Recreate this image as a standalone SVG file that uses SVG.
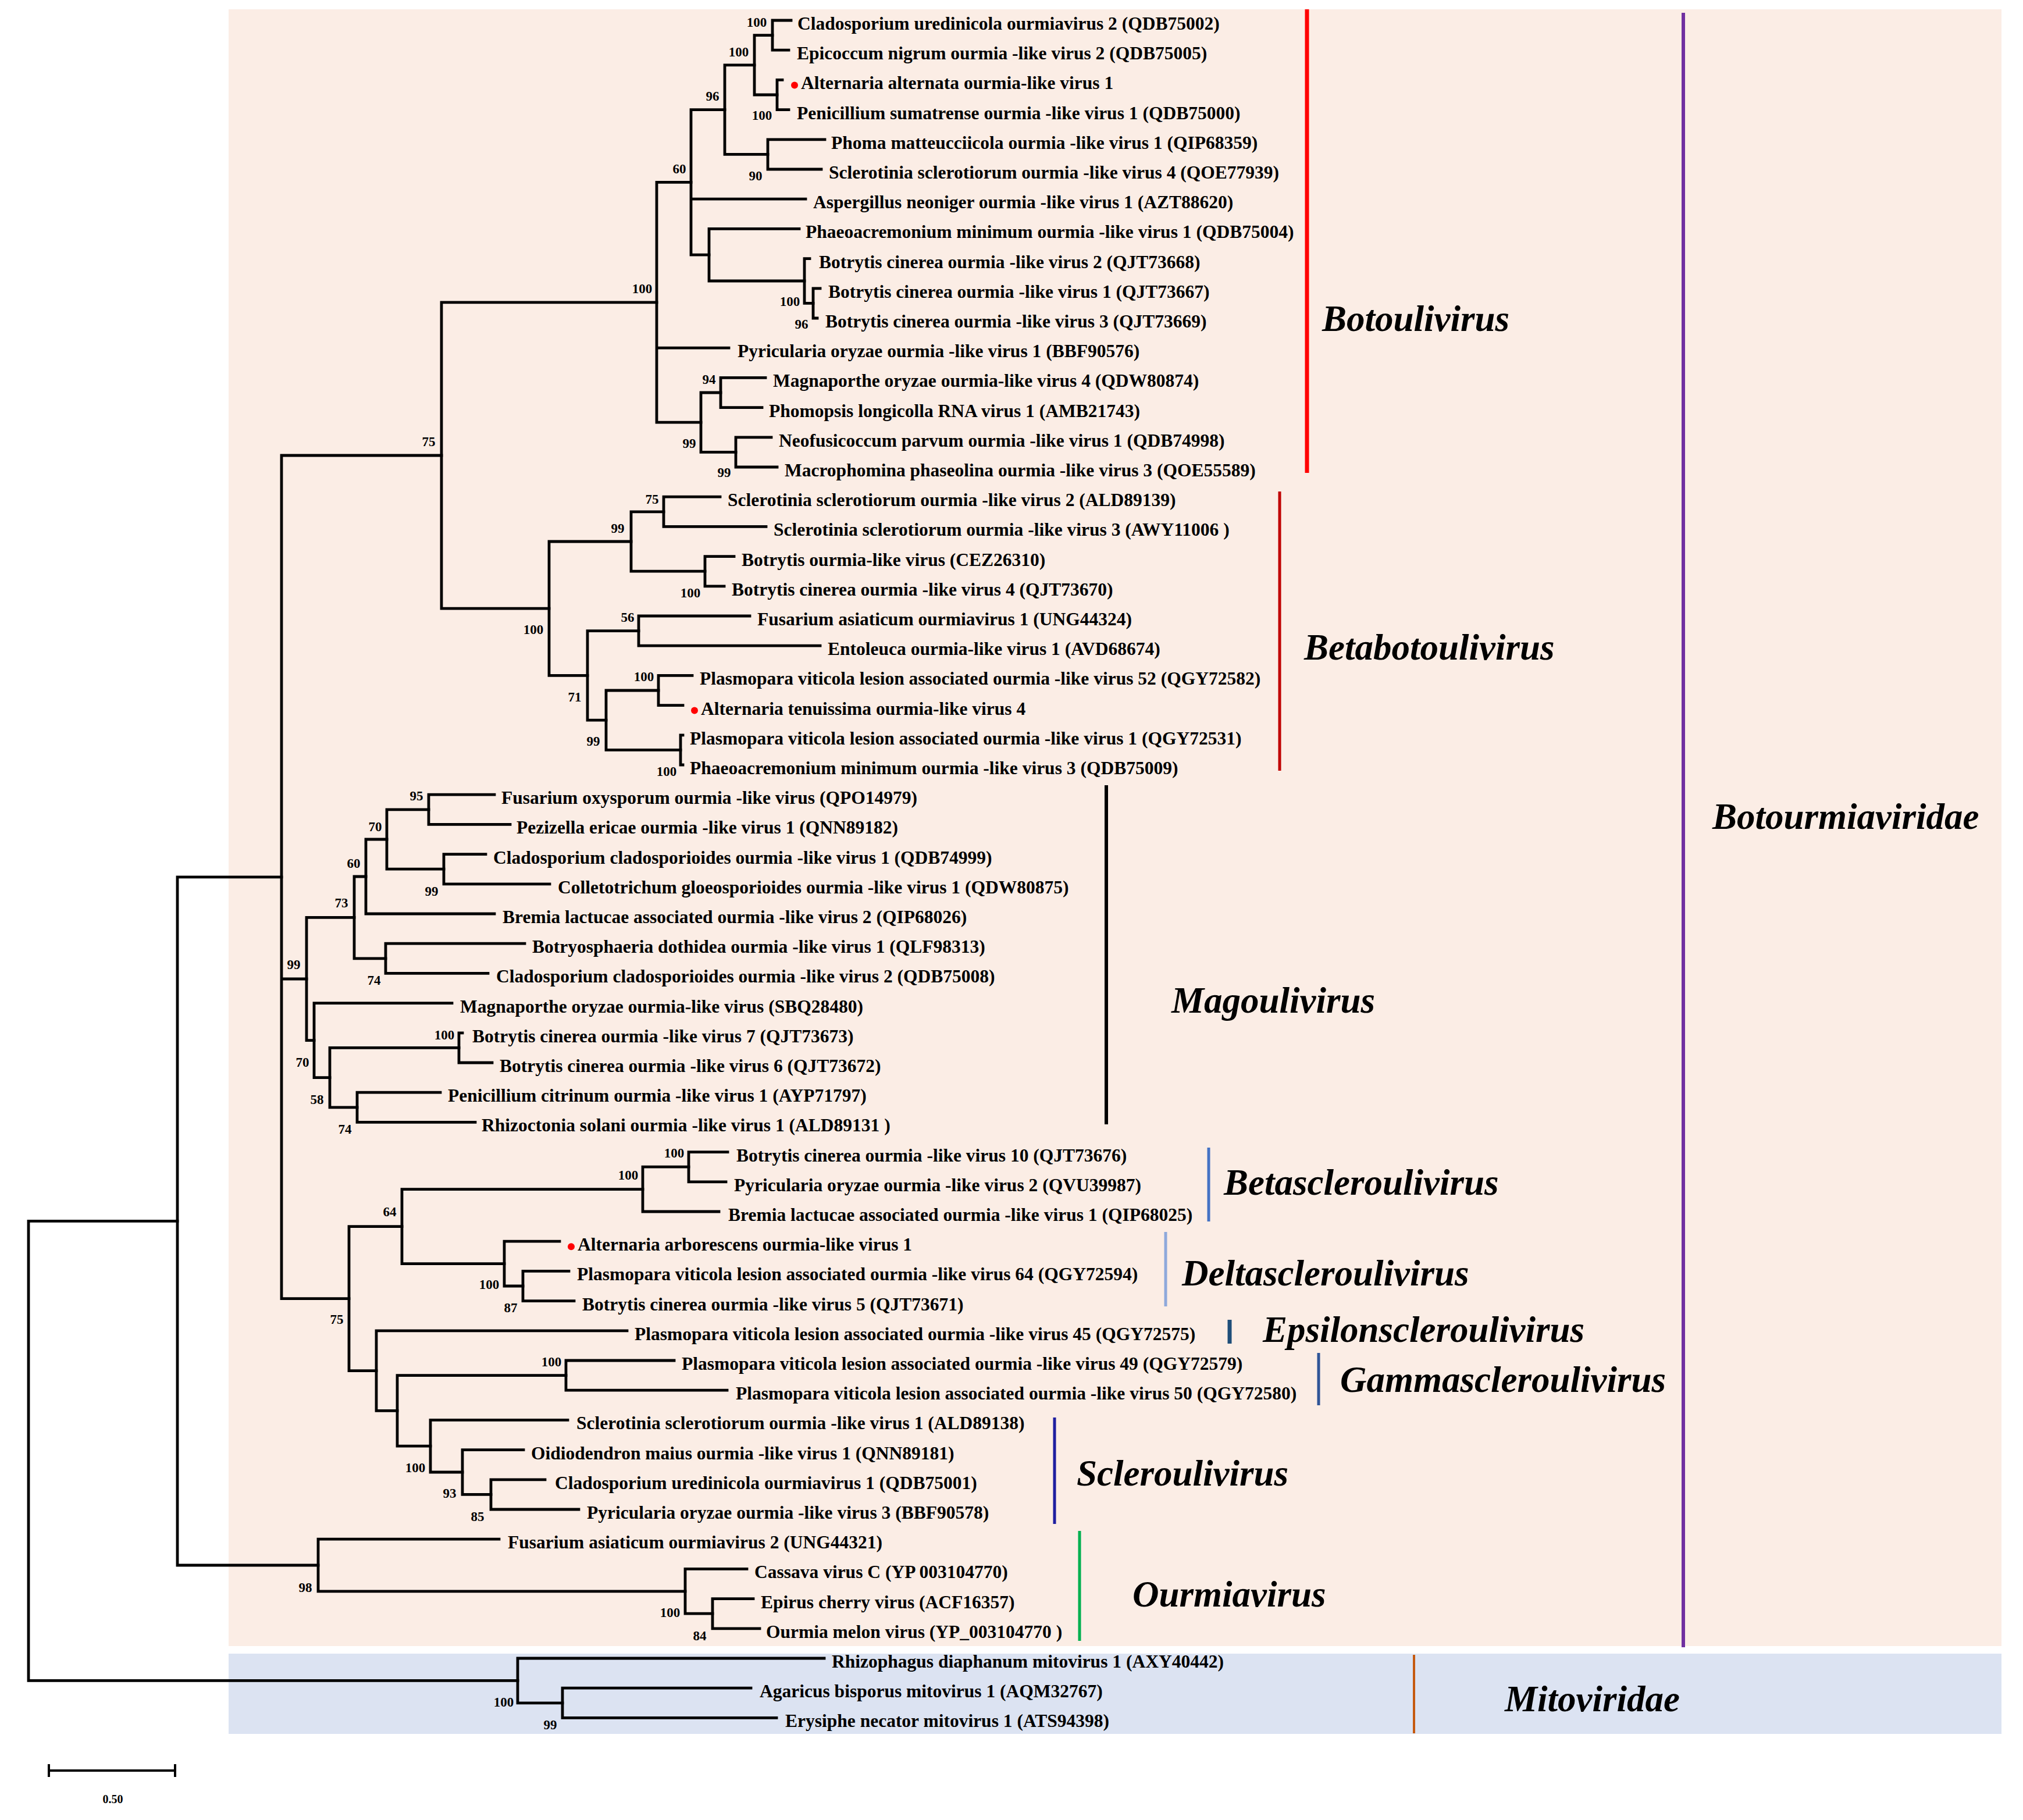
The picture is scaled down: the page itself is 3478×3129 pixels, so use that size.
<svg xmlns="http://www.w3.org/2000/svg" width="3478" height="3129" viewBox="0 0 3478 3129">
<style>
.leaf{font-family:"Liberation Serif","Times New Roman",serif;font-weight:bold;font-size:31.5px;fill:#000}
.bs{font-family:"Liberation Serif","Times New Roman",serif;font-weight:bold;font-size:23px;text-anchor:middle;fill:#000}
.clade{font-family:"Liberation Serif","Times New Roman",serif;font-weight:bold;font-style:italic;font-size:63px;fill:#000}
.tree path{fill:none;stroke:#000;stroke-width:4.8;stroke-linecap:square}
.bar{stroke-width:6;fill:none}
.dot{fill:#FF0000}
</style>
<rect width="3478" height="3129" fill="#FFFFFF"/>
<rect id="bg-botourmiaviridae" x="393" y="16" width="3048" height="2814" fill="#FBEDE5"/>
<rect id="bg-mitoviridae" x="393" y="2843" width="3048" height="138" fill="#DCE3F2"/>

<g id="connectors" class="tree">
<path d="M49,2099.4V2889.4M49,2099.4H305M49,2889.4H890"/>
<path d="M305,1507.8V2691M305,1507.8H484M305,2691H547"/>
<path d="M484,783V2232.6M484,783H759M484,1683H527M484,2232.6H600"/>
<path d="M759,519.8V1046.2M759,519.8H1129M759,1046.2H944"/>
<path d="M1129,313.4V726.2M1129,313.4H1188M1129,598.2H1253M1129,726.2H1205"/>
<path d="M1188,188.6V438.2M1188,188.6H1246M1188,342.2H1385M1188,438.2H1219"/>
<path d="M1246,111.8V265.4M1246,111.8H1297M1246,265.4H1320"/>
<path d="M1297,60.6V163M1297,60.6H1328M1297,163H1336"/>
<path d="M1328,35V86.2M1328,35H1360M1328,86.2H1356"/>
<path d="M1336,137.4V188.6M1336,137.4H1345M1336,188.6H1356"/>
<path d="M1320,239.8V291M1320,239.8H1418M1320,291H1412"/>
<path d="M1219,393.4V483M1219,393.4H1374M1219,483H1383"/>
<path d="M1383,444.6V521.4M1383,444.6H1392M1383,521.4H1398"/>
<path d="M1398,495.8V547M1398,495.8H1410M1398,547H1405"/>
<path d="M1205,675V777.4M1205,675H1239M1205,777.4H1265"/>
<path d="M1239,649.4V700.6M1239,649.4H1316M1239,700.6H1310"/>
<path d="M1265,751.8V803M1265,751.8H1326M1265,803H1336"/>
<path d="M944,931V1161.4M944,931H1085M944,1161.4H1010"/>
<path d="M1085,879.8V982.2M1085,879.8H1141M1085,982.2H1212"/>
<path d="M1141,854.2V905.4M1141,854.2H1238M1141,905.4H1317"/>
<path d="M1212,956.6V1007.8M1212,956.6H1262M1212,1007.8H1245"/>
<path d="M1010,1084.6V1238.2M1010,1084.6H1098M1010,1238.2H1042"/>
<path d="M1098,1059V1110.2M1098,1059H1289M1098,1110.2H1410"/>
<path d="M1042,1187V1289.4M1042,1187H1132M1042,1289.4H1170"/>
<path d="M1132,1161.4V1212.6M1132,1161.4H1190M1132,1212.6H1174"/>
<path d="M1170,1263.8V1315M1170,1263.8H1174M1170,1315H1174"/>
<path d="M527,1577.4V1788.6M527,1577.4H609M527,1788.6H540"/>
<path d="M609,1507V1647.8M609,1507H629M609,1647.8H663"/>
<path d="M629,1443V1571M629,1443H665M629,1571H850"/>
<path d="M665,1391.8V1494.2M665,1391.8H737M665,1494.2H763"/>
<path d="M737,1366.2V1417.4M737,1366.2H850M737,1417.4H877"/>
<path d="M763,1468.6V1519.8M763,1468.6H835M763,1519.8H945"/>
<path d="M663,1622.2V1673.4M663,1622.2H902M663,1673.4H839"/>
<path d="M540,1724.6V1852.6M540,1724.6H777M540,1852.6H567"/>
<path d="M567,1801.4V1903.8M567,1801.4H789M567,1903.8H614"/>
<path d="M789,1775.8V1827M789,1775.8H795M789,1827H846"/>
<path d="M614,1878.2V1929.4M614,1878.2H757M614,1929.4H817"/>
<path d="M600,2108.6V2356.6M600,2108.6H691M600,2356.6H647"/>
<path d="M691,2044.6V2172.6M691,2044.6H1105M691,2172.6H867"/>
<path d="M1105,2006.2V2083M1105,2006.2H1184M1105,2083H1236"/>
<path d="M1184,1980.6V2031.8M1184,1980.6H1251M1184,2031.8H1248"/>
<path d="M867,2134.2V2211M867,2134.2H962M867,2211H899"/>
<path d="M899,2185.4V2236.6M899,2185.4H978M899,2236.6H987"/>
<path d="M647,2287.8V2425.4M647,2287.8H1078M647,2425.4H683"/>
<path d="M683,2364.6V2486.2M683,2364.6H973M683,2486.2H740"/>
<path d="M973,2339V2390.2M973,2339H1159M973,2390.2H1250"/>
<path d="M740,2441.4V2531M740,2441.4H976M740,2531H795"/>
<path d="M795,2492.6V2569.4M795,2492.6H900M795,2569.4H844"/>
<path d="M844,2543.8V2595M844,2543.8H937M844,2595H995"/>
<path d="M547,2646.2V2735.8M547,2646.2H858M547,2735.8H1178"/>
<path d="M1178,2697.4V2774.2M1178,2697.4H1284M1178,2774.2H1225"/>
<path d="M1225,2748.6V2799.8M1225,2748.6H1295M1225,2799.8H1306"/>
<path d="M890,2851V2927.8M890,2851H1417M890,2927.8H967"/>
<path d="M967,2902.2V2953.4M967,2902.2H1291M967,2953.4H1335"/>
</g>

<g id="bootstrap">
<text class="bs" x="1301" y="45.5">100</text>
<text class="bs" x="1270" y="97">100</text>
<text class="bs" x="1310" y="206">100</text>
<text class="bs" x="1225" y="173">96</text>
<text class="bs" x="1299" y="310">90</text>
<text class="bs" x="1168" y="298">60</text>
<text class="bs" x="1104" y="504">100</text>
<text class="bs" x="1358" y="526">100</text>
<text class="bs" x="1378" y="565">96</text>
<text class="bs" x="1219" y="660">94</text>
<text class="bs" x="1185" y="770">99</text>
<text class="bs" x="1245" y="820">99</text>
<text class="bs" x="737" y="767">75</text>
<text class="bs" x="1121" y="866">75</text>
<text class="bs" x="1062" y="916">99</text>
<text class="bs" x="1187" y="1027">100</text>
<text class="bs" x="917" y="1090">100</text>
<text class="bs" x="1079" y="1069">56</text>
<text class="bs" x="1107" y="1171">100</text>
<text class="bs" x="988" y="1206">71</text>
<text class="bs" x="1020" y="1282">99</text>
<text class="bs" x="1146" y="1334">100</text>
<text class="bs" x="716" y="1376">95</text>
<text class="bs" x="645" y="1429">70</text>
<text class="bs" x="608" y="1492">60</text>
<text class="bs" x="742" y="1540">99</text>
<text class="bs" x="587" y="1560">73</text>
<text class="bs" x="505" y="1666">99</text>
<text class="bs" x="643" y="1693">74</text>
<text class="bs" x="764" y="1787">100</text>
<text class="bs" x="520" y="1834">70</text>
<text class="bs" x="545" y="1898">58</text>
<text class="bs" x="593" y="1949">74</text>
<text class="bs" x="1159" y="1990">100</text>
<text class="bs" x="1080" y="2028">100</text>
<text class="bs" x="670" y="2091">64</text>
<text class="bs" x="841" y="2216">100</text>
<text class="bs" x="878" y="2256">87</text>
<text class="bs" x="579" y="2276">75</text>
<text class="bs" x="948" y="2349">100</text>
<text class="bs" x="714" y="2531">100</text>
<text class="bs" x="773" y="2575">93</text>
<text class="bs" x="821" y="2615">85</text>
<text class="bs" x="525" y="2737">98</text>
<text class="bs" x="1152" y="2780">100</text>
<text class="bs" x="1203" y="2820">84</text>
<text class="bs" x="866" y="2934">100</text>
<text class="bs" x="946" y="2973">99</text>
</g>

<g id="leaves">
<g id="leaf-0"><text class="leaf" x="1371" y="51">Cladosporium uredinicola ourmiavirus 2 (QDB75002)</text></g>
<g id="leaf-1"><text class="leaf" x="1370" y="102.2">Epicoccum nigrum ourmia -like virus 2 (QDB75005)</text></g>
<g id="leaf-2"><circle class="dot" cx="1366" cy="146.4" r="6"/><text class="leaf" x="1377" y="153.4">Alternaria alternata ourmia-like virus 1</text></g>
<g id="leaf-3"><text class="leaf" x="1370" y="204.6">Penicillium sumatrense ourmia -like virus 1 (QDB75000)</text></g>
<g id="leaf-4"><text class="leaf" x="1429" y="255.8">Phoma matteucciicola ourmia -like virus 1 (QIP68359)</text></g>
<g id="leaf-5"><text class="leaf" x="1425" y="307">Sclerotinia sclerotiorum ourmia -like virus 4 (QOE77939)</text></g>
<g id="leaf-6"><text class="leaf" x="1398" y="358.2">Aspergillus neoniger ourmia -like virus 1 (AZT88620)</text></g>
<g id="leaf-7"><text class="leaf" x="1385" y="409.4">Phaeoacremonium minimum ourmia -like virus 1 (QDB75004)</text></g>
<g id="leaf-8"><text class="leaf" x="1408" y="460.6">Botrytis cinerea ourmia -like virus 2 (QJT73668)</text></g>
<g id="leaf-9"><text class="leaf" x="1424" y="511.8">Botrytis cinerea ourmia -like virus 1 (QJT73667)</text></g>
<g id="leaf-10"><text class="leaf" x="1419" y="563">Botrytis cinerea ourmia -like virus 3 (QJT73669)</text></g>
<g id="leaf-11"><text class="leaf" x="1268" y="614.2">Pyricularia oryzae ourmia -like virus 1 (BBF90576)</text></g>
<g id="leaf-12"><text class="leaf" x="1329" y="665.4">Magnaporthe oryzae ourmia-like virus 4 (QDW80874)</text></g>
<g id="leaf-13"><text class="leaf" x="1322" y="716.6">Phomopsis longicolla RNA virus 1 (AMB21743)</text></g>
<g id="leaf-14"><text class="leaf" x="1339" y="767.8">Neofusicoccum parvum ourmia -like virus 1 (QDB74998)</text></g>
<g id="leaf-15"><text class="leaf" x="1349" y="819">Macrophomina phaseolina ourmia -like virus 3 (QOE55589)</text></g>
<g id="leaf-16"><text class="leaf" x="1251" y="870.2">Sclerotinia sclerotiorum ourmia -like virus 2 (ALD89139)</text></g>
<g id="leaf-17"><text class="leaf" x="1330" y="921.4">Sclerotinia sclerotiorum ourmia -like virus 3 (AWY11006 )</text></g>
<g id="leaf-18"><text class="leaf" x="1275" y="972.6">Botrytis ourmia-like virus (CEZ26310)</text></g>
<g id="leaf-19"><text class="leaf" x="1258" y="1023.8">Botrytis cinerea ourmia -like virus 4 (QJT73670)</text></g>
<g id="leaf-20"><text class="leaf" x="1302" y="1075">Fusarium asiaticum ourmiavirus 1 (UNG44324)</text></g>
<g id="leaf-21"><text class="leaf" x="1423" y="1126.2">Entoleuca ourmia-like virus 1 (AVD68674)</text></g>
<g id="leaf-22"><text class="leaf" x="1203" y="1177.4">Plasmopara viticola lesion associated ourmia -like virus 52 (QGY72582)</text></g>
<g id="leaf-23"><circle class="dot" cx="1194" cy="1221.6" r="6"/><text class="leaf" x="1205" y="1228.6">Alternaria tenuissima ourmia-like virus 4</text></g>
<g id="leaf-24"><text class="leaf" x="1186" y="1279.8">Plasmopara viticola lesion associated ourmia -like virus 1 (QGY72531)</text></g>
<g id="leaf-25"><text class="leaf" x="1186" y="1331">Phaeoacremonium minimum ourmia -like virus 3 (QDB75009)</text></g>
<g id="leaf-26"><text class="leaf" x="862" y="1382.2">Fusarium oxysporum ourmia -like virus (QPO14979)</text></g>
<g id="leaf-27"><text class="leaf" x="888" y="1433.4">Pezizella ericae ourmia -like virus 1 (QNN89182)</text></g>
<g id="leaf-28"><text class="leaf" x="848" y="1484.6">Cladosporium cladosporioides ourmia -like virus 1 (QDB74999)</text></g>
<g id="leaf-29"><text class="leaf" x="959" y="1535.8">Colletotrichum gloeosporioides ourmia -like virus 1 (QDW80875)</text></g>
<g id="leaf-30"><text class="leaf" x="864" y="1587">Bremia lactucae associated ourmia -like virus 2 (QIP68026)</text></g>
<g id="leaf-31"><text class="leaf" x="915" y="1638.2">Botryosphaeria dothidea ourmia -like virus 1 (QLF98313)</text></g>
<g id="leaf-32"><text class="leaf" x="853" y="1689.4">Cladosporium cladosporioides ourmia -like virus 2 (QDB75008)</text></g>
<g id="leaf-33"><text class="leaf" x="791" y="1740.6">Magnaporthe oryzae ourmia-like virus (SBQ28480)</text></g>
<g id="leaf-34"><text class="leaf" x="812" y="1791.8">Botrytis cinerea ourmia -like virus 7 (QJT73673)</text></g>
<g id="leaf-35"><text class="leaf" x="859" y="1843">Botrytis cinerea ourmia -like virus 6 (QJT73672)</text></g>
<g id="leaf-36"><text class="leaf" x="770" y="1894.2">Penicillium citrinum ourmia -like virus 1 (AYP71797)</text></g>
<g id="leaf-37"><text class="leaf" x="828" y="1945.4">Rhizoctonia solani ourmia -like virus 1 (ALD89131 )</text></g>
<g id="leaf-38"><text class="leaf" x="1266" y="1996.6">Botrytis cinerea ourmia -like virus 10 (QJT73676)</text></g>
<g id="leaf-39"><text class="leaf" x="1262" y="2047.8">Pyricularia oryzae ourmia -like virus 2 (QVU39987)</text></g>
<g id="leaf-40"><text class="leaf" x="1252" y="2099">Bremia lactucae associated ourmia -like virus 1 (QIP68025)</text></g>
<g id="leaf-41"><circle class="dot" cx="982" cy="2143.2" r="6"/><text class="leaf" x="993" y="2150.2">Alternaria arborescens ourmia-like virus 1</text></g>
<g id="leaf-42"><text class="leaf" x="992" y="2201.4">Plasmopara viticola lesion associated ourmia -like virus 64 (QGY72594)</text></g>
<g id="leaf-43"><text class="leaf" x="1001" y="2252.6">Botrytis cinerea ourmia -like virus 5 (QJT73671)</text></g>
<g id="leaf-44"><text class="leaf" x="1091" y="2303.8">Plasmopara viticola lesion associated ourmia -like virus 45 (QGY72575)</text></g>
<g id="leaf-45"><text class="leaf" x="1172" y="2355">Plasmopara viticola lesion associated ourmia -like virus 49 (QGY72579)</text></g>
<g id="leaf-46"><text class="leaf" x="1265" y="2406.2">Plasmopara viticola lesion associated ourmia -like virus 50 (QGY72580)</text></g>
<g id="leaf-47"><text class="leaf" x="991" y="2457.4">Sclerotinia sclerotiorum ourmia -like virus 1 (ALD89138)</text></g>
<g id="leaf-48"><text class="leaf" x="913" y="2508.6">Oidiodendron maius ourmia -like virus 1 (QNN89181)</text></g>
<g id="leaf-49"><text class="leaf" x="954" y="2559.8">Cladosporium uredinicola ourmiavirus 1 (QDB75001)</text></g>
<g id="leaf-50"><text class="leaf" x="1009" y="2611">Pyricularia oryzae ourmia -like virus 3 (BBF90578)</text></g>
<g id="leaf-51"><text class="leaf" x="873" y="2662.2">Fusarium asiaticum ourmiavirus 2 (UNG44321)</text></g>
<g id="leaf-52"><text class="leaf" x="1297" y="2713.4">Cassava virus C (YP 003104770)</text></g>
<g id="leaf-53"><text class="leaf" x="1308" y="2764.6">Epirus cherry virus (ACF16357)</text></g>
<g id="leaf-54"><text class="leaf" x="1317" y="2815.8">Ourmia melon virus (YP_003104770 )</text></g>
<g id="leaf-55"><text class="leaf" x="1430" y="2867">Rhizophagus diaphanum mitovirus 1 (AXY40442)</text></g>
<g id="leaf-56"><text class="leaf" x="1306" y="2918.2">Agaricus bisporus mitovirus 1 (AQM32767)</text></g>
<g id="leaf-57"><text class="leaf" x="1350" y="2969.4">Erysiphe necator mitovirus 1 (ATS94398)</text></g>
</g>

<g id="clade-botoulivirus"><line class="bar" x1="2247" y1="16" x2="2247" y2="813" stroke="#FF0000" style="stroke-width:7"/><text class="clade" x="2273" y="569">Botoulivirus</text></g>
<g id="clade-betabotoulivirus"><line class="bar" x1="2200" y1="845" x2="2200" y2="1325" stroke="#C00000" style="stroke-width:5"/><text class="clade" x="2242" y="1134">Betabotoulivirus</text></g>
<g id="clade-botourmiaviridae"><line class="bar" x1="2894" y1="22" x2="2894" y2="2832" stroke="#7030A0"/><text class="clade" x="2944" y="1425">Botourmiaviridae</text></g>
<g id="clade-magoulivirus"><line class="bar" x1="1902" y1="1350" x2="1902" y2="1933" stroke="#000000"/><text class="clade" x="2014" y="1741">Magoulivirus</text></g>
<g id="clade-betascleroulivirus"><line class="bar" x1="2078" y1="1973" x2="2078" y2="2100" stroke="#4472C4" style="stroke-width:5"/><text class="clade" x="2104" y="2054">Betascleroulivirus</text></g>
<g id="clade-deltascleroulivirus"><line class="bar" x1="2004" y1="2118" x2="2004" y2="2246" stroke="#8EA9DB" style="stroke-width:5"/><text class="clade" x="2032" y="2210">Deltascleroulivirus</text></g>
<g id="clade-epsilonscleroulivirus"><line class="bar" x1="2114" y1="2269" x2="2114" y2="2310" stroke="#1F4E79" style="stroke-width:7"/><text class="clade" x="2171" y="2307">Epsilonscleroulivirus</text></g>
<g id="clade-gammascleroulivirus"><line class="bar" x1="2267" y1="2326" x2="2267" y2="2416" stroke="#2F5597" style="stroke-width:5"/><text class="clade" x="2304" y="2393">Gammascleroulivirus</text></g>
<g id="clade-scleroulivirus"><line class="bar" x1="1813" y1="2437" x2="1813" y2="2620" stroke="#1F1FA0" style="stroke-width:5"/><text class="clade" x="1851" y="2554">Scleroulivirus</text></g>
<g id="clade-ourmiavirus"><line class="bar" x1="1856" y1="2632" x2="1856" y2="2821" stroke="#00B050" style="stroke-width:5"/><text class="clade" x="1947" y="2762">Ourmiavirus</text></g>
<g id="clade-mitoviridae"><line class="bar" x1="2431" y1="2845" x2="2431" y2="2980" stroke="#C55A11" style="stroke-width:4"/><text class="clade" x="2587" y="2942">Mitoviridae</text></g>

<g id="scale-bar">
<path d="M84,3044H301M84,3033V3055M301,3033V3055" fill="none" stroke="#000" stroke-width="4"/>
<text x="194" y="3100" style="font-family:'Liberation Serif','Times New Roman',serif;font-weight:bold;font-size:20px;text-anchor:middle">0.50</text>
</g>
</svg>
